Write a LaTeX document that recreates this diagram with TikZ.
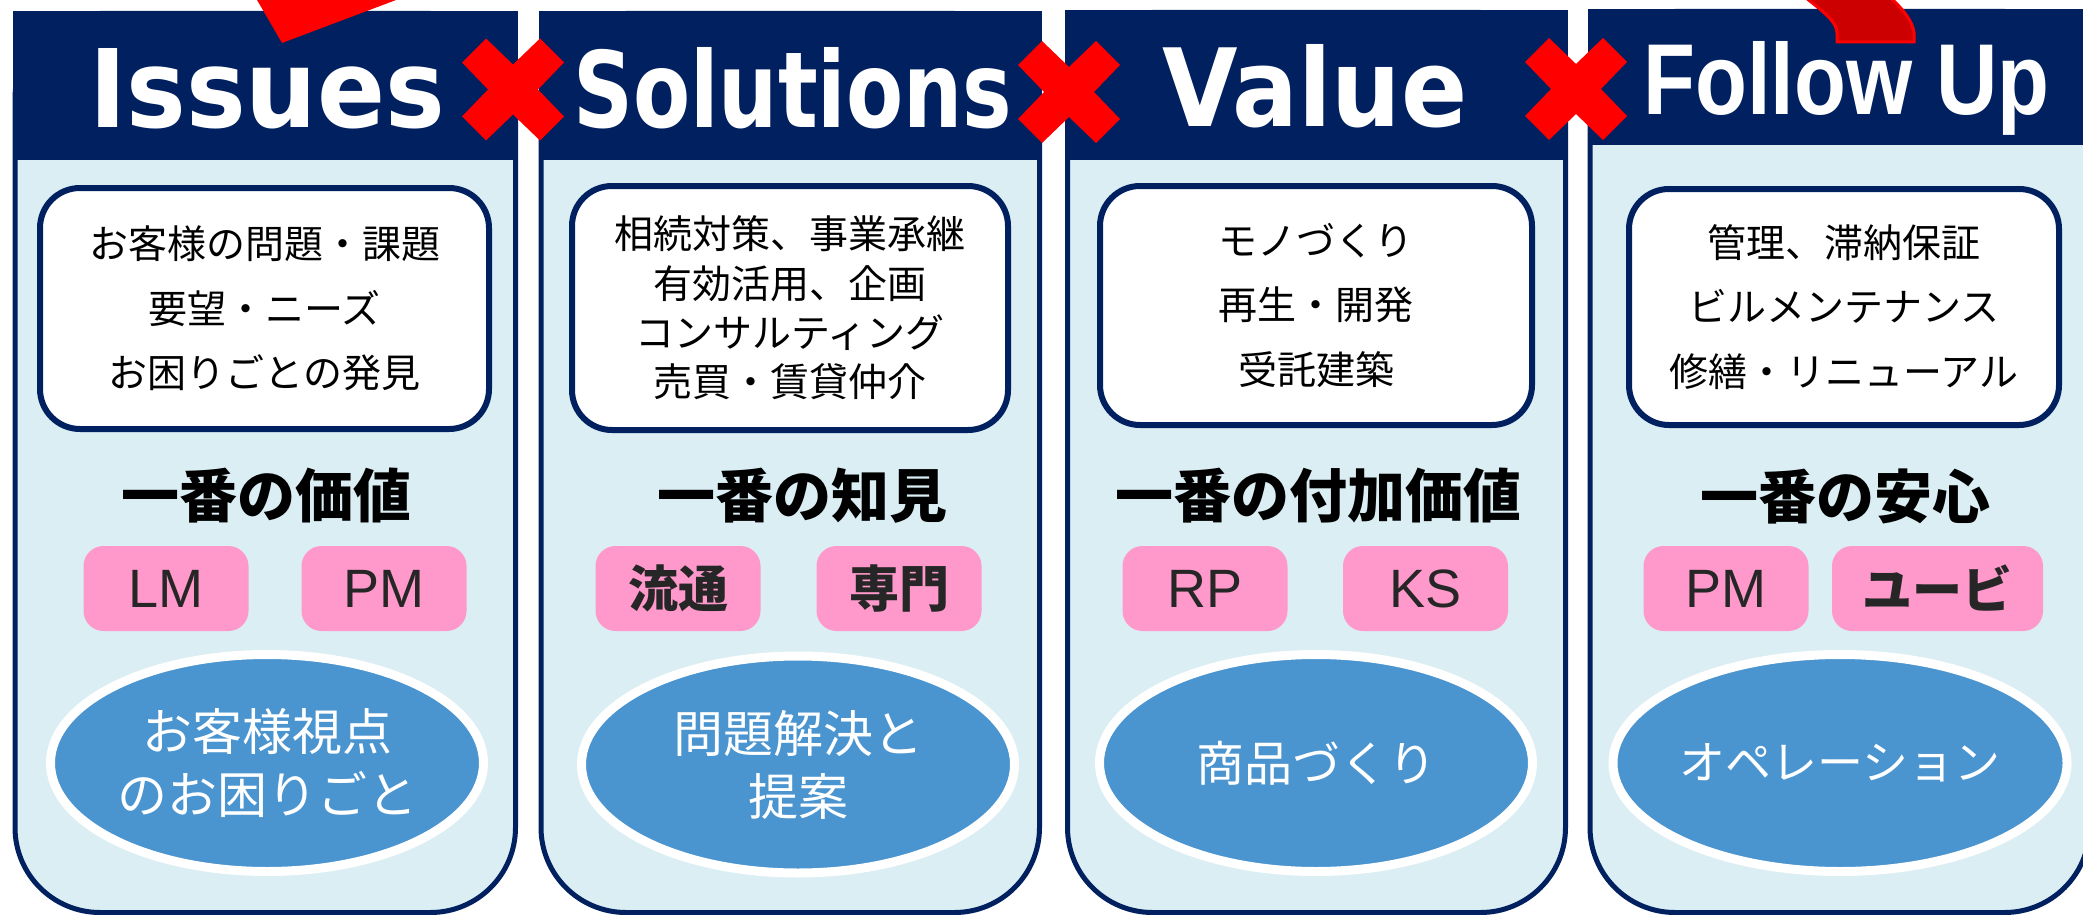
\documentclass[tikz,border=0pt]{standalone}
\usepackage{fontspec}
\usepackage{graphicx}
\usetikzlibrary{shapes.geometric}
\newfontfamily\jpfont{Noto Sans CJK JP}
\newfontfamily\hdfont{DejaVu Sans}
\newfontfamily\arfont{Liberation Sans}
\definecolor{navy}{RGB}{0,32,96}
\definecolor{paneltint}{RGB}{218,238,243}
\definecolor{pinkbox}{RGB}{255,153,204}
\definecolor{ovalblue}{RGB}{74,148,208}
\definecolor{xred}{RGB}{255,0,0}
\definecolor{darkred}{RGB}{204,0,0}
\definecolor{inkgrey}{RGB}{38,38,38}
\begin{document}
\begin{tikzpicture}[x=1pt,y=-1pt,
  panel/.style={draw=navy, line width=5pt, fill=paneltint, rounded corners=85pt},
  headbar/.style={fill=navy},
  titletext/.style={anchor=base west, inner sep=0pt, text=white},
  infobox/.style={draw=navy, line width=6pt, fill=white, rounded corners=40pt, inner sep=0pt, align=center,
     font=\jpfont\fontsize{39}{64.5}\selectfont},
  heading/.style={inner sep=0pt, font=\jpfont\bfseries\fontsize{58}{70}\selectfont},
  tag/.style={fill=pinkbox, rounded corners=20pt, minimum height=85pt, minimum width=165pt, inner sep=0pt, text=inkgrey},
  tagla/.style={tag, font=\arfont\fontsize{54}{60}\selectfont},
  tagjp/.style={tag, font=\jpfont\bfseries\fontsize{50}{60}\selectfont},
  oval/.style={ellipse, draw=white, line width=9pt, fill=ovalblue, minimum width=433pt, minimum height=217pt,
     inner sep=0pt, text=white, align=center, font=\jpfont\fontsize{50}{63}\selectfont},
  crossmark/.pic={\fill[xred] (-51,-27) -- (-27,-51) -- (0,-25) -- (27,-51) -- (51,-27) -- (25,0) -- (51,27)
     -- (27,51) -- (0,25) -- (-27,51) -- (-51,27) -- (-25,0) -- cycle;}
]
\useasboundingbox (0,0) rectangle (2083,915);
\fill[white] (0,0) rectangle (2083,915);

% panels
\draw[panel] (15,13.5) rectangle (515.5,912.5);
\draw[panel] (541,13.5) rectangle (1039.5,912.5);
\draw[panel] (1067.5,12.5) rectangle (1565.5,912.5);
\draw[panel] (1590,11.5) rectangle (2089.5,912.5);

% header bars
\fill[headbar] (12.5,11) rectangle (518,160);
\fill[headbar] (538.5,11) rectangle (1042,160);
\fill[headbar] (1065,10) rectangle (1568,160);
\fill[headbar] (1587.5,9) rectangle (2095,145);

% header titles
\node[titletext] (t1) at (89,128) {\resizebox{356pt}{79pt}{\hdfont\bfseries Issues}};
\node[titletext] (t2) at (573,128) {\resizebox{439pt}{80pt}{\hdfont\bfseries Solutions}};
\node[titletext] (t3) at (1162,127) {\resizebox{305pt}{82pt}{\hdfont\bfseries Value}};
\node[titletext] (t4) at (1643,115) {\resizebox{406pt}{73pt}{\arfont\bfseries Follow Up}};

% red crosses
\pic at (513,89.5) {crossmark};
\pic at (1069,92) {crossmark};
\pic at (1576,89) {crossmark};

% red arrow fragments at the top
\fill[xred] (255.3,-3) -- (282,43) -- (404,-3) -- cycle;
\draw[xred, line width=3pt, fill=darkred] (1801,-6) .. controls (1824,12) and (1837,22) .. (1837,33)
   -- (1837,42) -- (1914,42) -- (1914,33) .. controls (1913,22) and (1903,8) .. (1886,-6);

% info boxes
\node[infobox, minimum width=449pt, minimum height=241pt] (b1) at (264.5,308.5)
  {お客様の問題・課題\\要望・ニーズ\\お困りごとの発見};
\node[infobox, minimum width=436pt, minimum height=244pt, font=\jpfont\fontsize{39}{49.3}\selectfont] (b2) at (790,308)
  {相続対策、事業承継\\有効活用、企画\\コンサルティング\\売買・賃貸仲介};
\node[infobox, minimum width=432pt, minimum height=239pt] (b3) at (1316,305.5)
  {モノづくり\\再生・開発\\受託建築};
\node[infobox, minimum width=430pt, minimum height=236pt] (b4) at (1844,307)
  {管理、滞納保証\\ビルメンテナンス\\修繕・リニューアル};

% headings
\node[heading] (h1) at (266,496) {一番の価値};
\node[heading] (h2) at (802,496) {一番の知見};
\node[heading] (h3) at (1318,496) {一番の付加価値};
\node[heading] (h4) at (1845,496) {一番の安心};

% tags
\node[tagla] (g1) at (166,588.5) {LM};
\node[tagla] (g2) at (384,588.5) {PM};
\node[tagjp] (g3) at (678,588.5) {流通};
\node[tagjp] (g4) at (899,588.5) {専門};
\node[tagla] (g5) at (1205,588.5) {RP};
\node[tagla] (g6) at (1425.5,588.5) {KS};
\node[tagla] (g7) at (1726,588.5) {PM};
\node[tagjp, minimum width=211pt] (g8) at (1937.5,588.5) {ユービ};

% ovals
\node[oval] (o1) at (267,763) {お客様視点\\のお困りごと};
\node[oval] (o2) at (798,764.5) {問題解決と\\提案};
\node[oval, font=\jpfont\fontsize{48}{60}\selectfont] (o3) at (1316,763) {商品づくり};
\node[oval, font=\jpfont\fontsize{46}{60}\selectfont] (o4) at (1840,763) {オペレーション};
\end{tikzpicture}
\end{document}
